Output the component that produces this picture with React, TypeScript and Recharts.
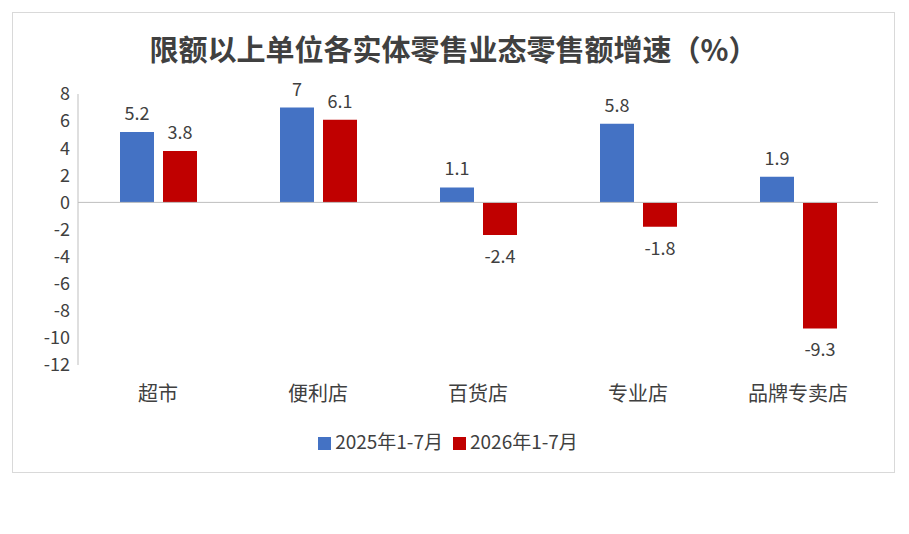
import { BarChart, Bar, XAxis, YAxis, ReferenceLine, Legend, LabelList } from "recharts";

const categories = ["超市", "便利店", "百货店", "专业店", "品牌专卖店"];
const y2025 = [5.2, 7, 1.1, 5.8, 1.9];
const y2026 = [3.8, 6.1, -2.4, -1.8, -9.3];
const yTicks = [-12, -10, -8, -6, -4, -2, 0, 2, 4, 6, 8];

const data = categories.map((name, i) => ({ name, a: y2025[i], b: y2026[i] }));

const FONT = "'Noto Sans CJK SC', 'Liberation Sans', sans-serif";

function ValueLabel(props: any) {
  const { x, y, width, height, value } = props;
  const top = Math.min(y, y + height);
  const bottom = Math.max(y, y + height);
  const ly = value >= 0 ? top - 12 : bottom + 28;
  return (
    <text x={x + width / 2} y={ly} textAnchor="middle" fill="#404040" fontSize={18} fontFamily={FONT}>
      {value}
    </text>
  );
}

export default function App() {
  return (
    <div
      style={{
        position: "relative",
        marginLeft: 4,
        marginTop: 4,
        width: 881,
        height: 459,
        border: "1px solid #d9d9d9",
        fontFamily: FONT,
        background: "#fff",
      }}
    >
      <div
        style={{
          position: "absolute",
          top: 14,
          left: 0,
          width: "100%",
          textAlign: "center",
          fontSize: 29,
          color: "#404040",
          fontWeight: 700,
        }}
      >
        限额以上单位各实体零售业态零售额增速（%）
      </div>
      <BarChart
        width={881}
        height={459}
        data={data}
        margin={{ top: 81, right: 16, left: 15, bottom: 50 }}
        barSize={34}
        barGap={9}
      >
        <YAxis
          domain={[-12, 8]}
          ticks={yTicks}
          width={50}
          interval={0}
          tick={{ fill: "#404040", fontSize: 18, fontFamily: FONT }}
          axisLine={{ stroke: "#bfbfbf" }}
          tickLine={false}
        />
        <XAxis
          dataKey="name"
          axisLine={false}
          tickLine={false}
          tick={{ fill: "#404040", fontSize: 20, fontFamily: FONT }}
          tickMargin={16}
        />
        <ReferenceLine y={0} stroke="#bfbfbf" />
        <Legend
          verticalAlign="bottom"
          iconType="square"
          iconSize={13}
          wrapperStyle={{ bottom: 18, fontSize: 19, fontFamily: FONT }}
          formatter={(v: string) => <span style={{ color: "#404040" }}>{v}</span>}
        />
        <Bar dataKey="a" name="2025年1-7月" fill="#4472C4" isAnimationActive={false}>
          <LabelList dataKey="a" content={ValueLabel} />
        </Bar>
        <Bar dataKey="b" name="2026年1-7月" fill="#C00000" isAnimationActive={false}>
          <LabelList dataKey="b" content={ValueLabel} />
        </Bar>
      </BarChart>
    </div>
  );
}
